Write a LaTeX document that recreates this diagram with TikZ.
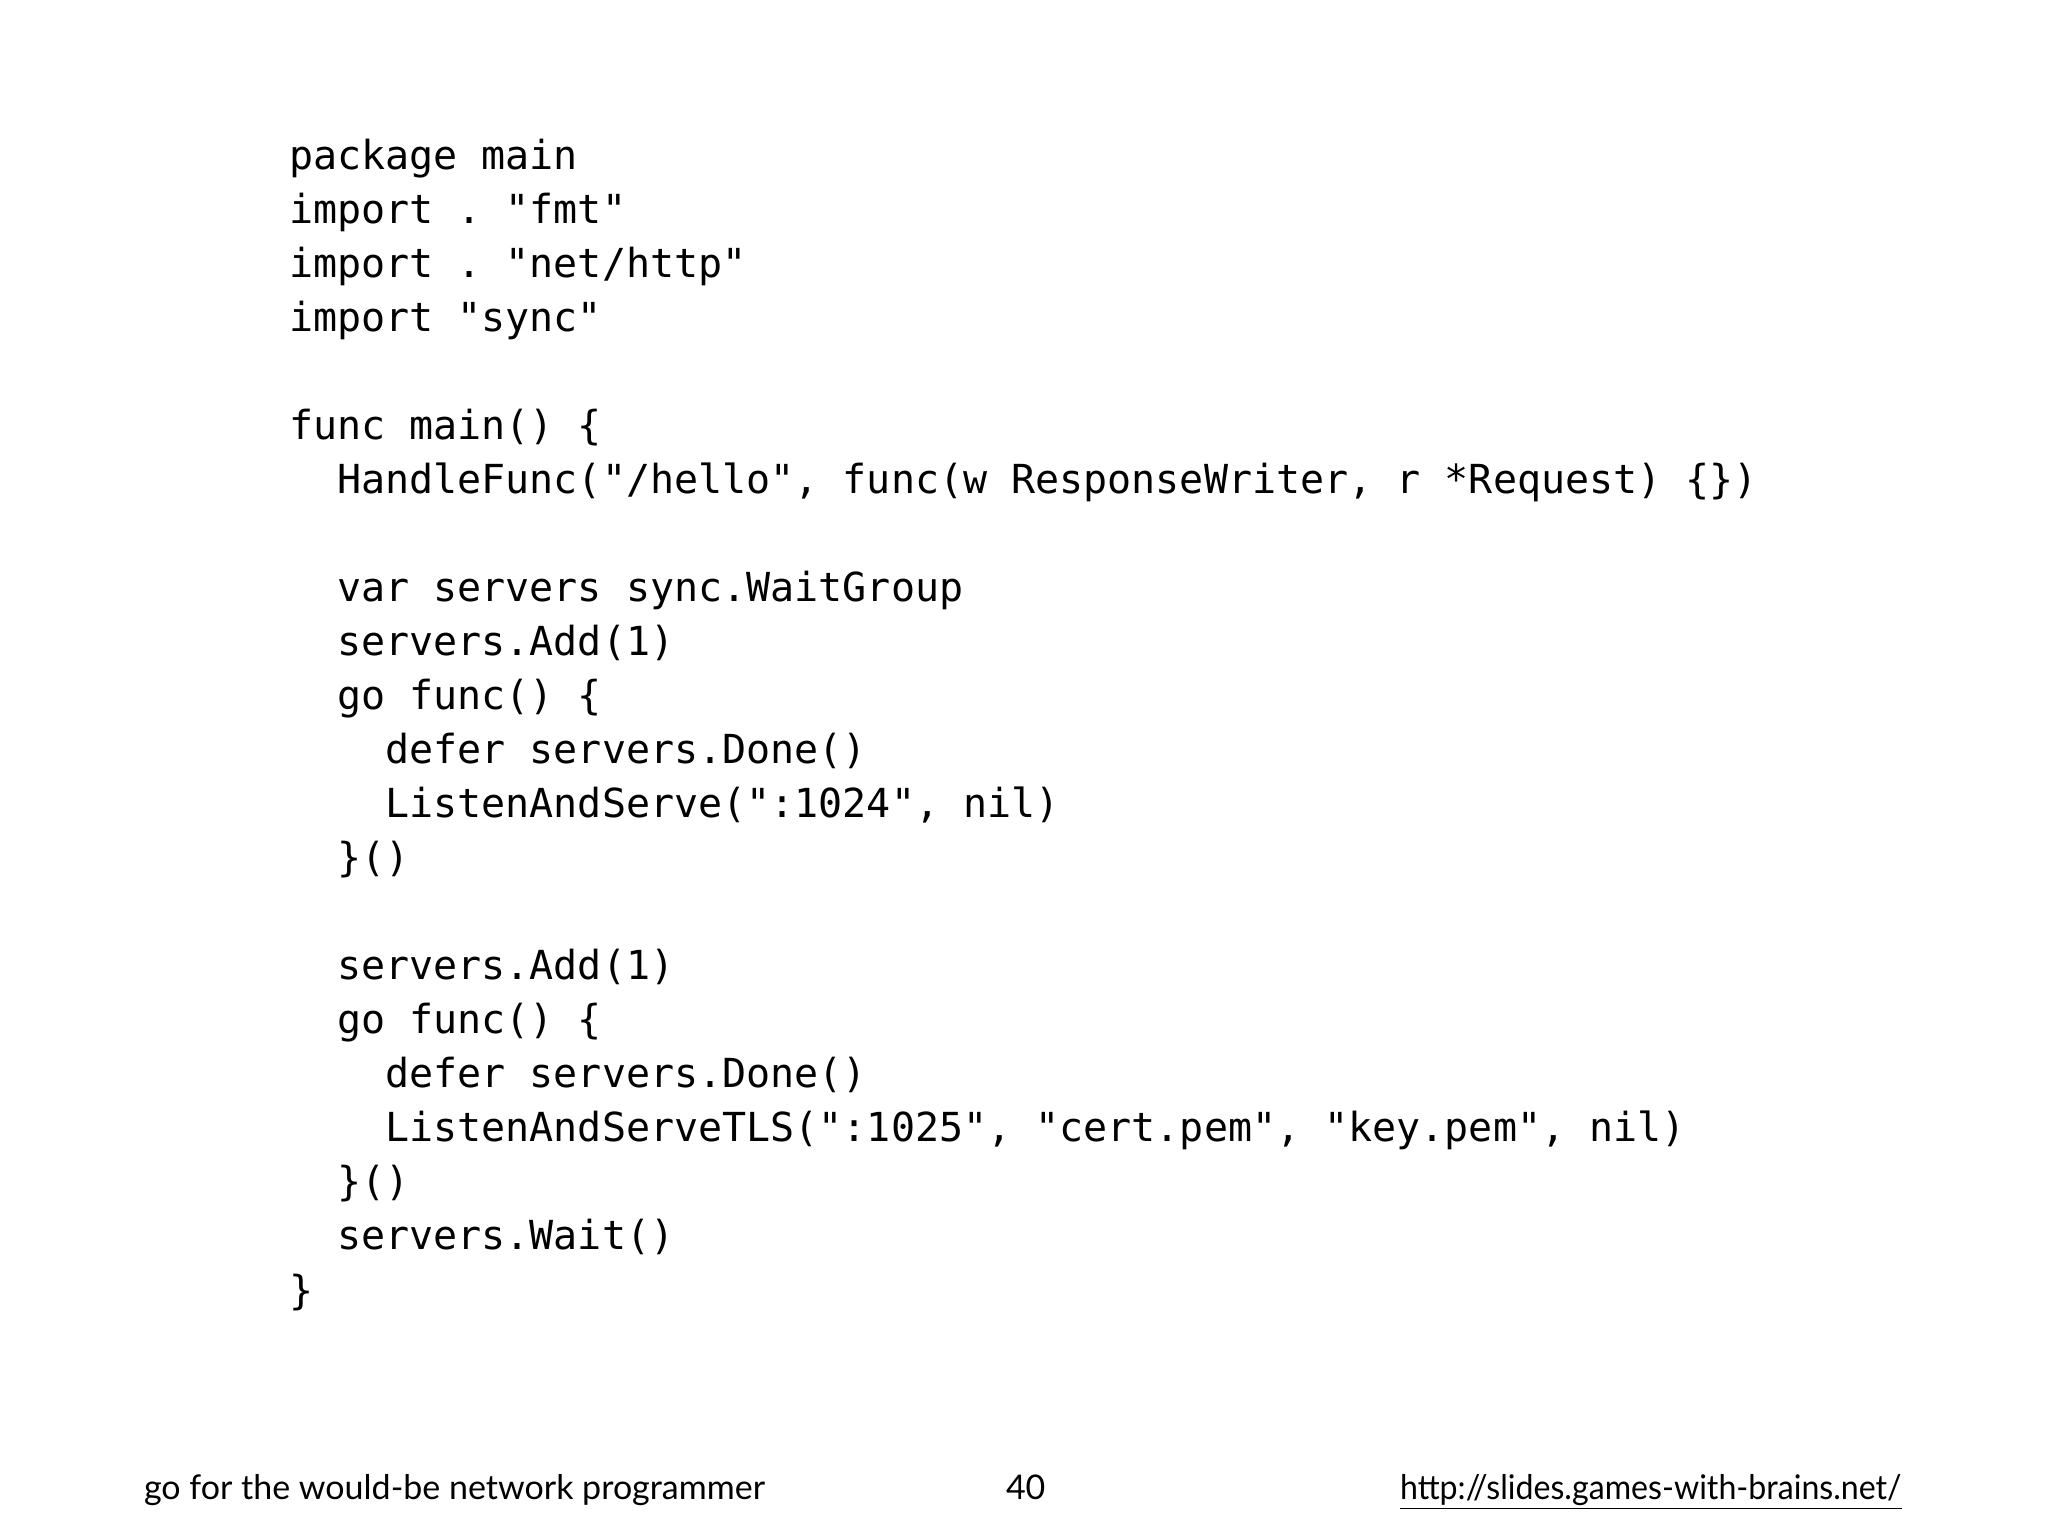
\documentclass[tikz,border=0pt]{standalone}
\usepackage{fontspec}
\setmonofont{DejaVu Sans Mono}
\newfontfamily\footfont{Lato}
\begin{document}
\begin{tikzpicture}[x=1pt,y=1pt,
  codeline/.style={anchor=base west, inner sep=0pt, outer sep=0pt, font=\ttfamily\fontsize{20pt}{27pt}\selectfont, text=black},
  footline/.style={anchor=base west, inner sep=0pt, outer sep=0pt, font=\footfont\fontsize{17pt}{20pt}\selectfont, text=black}]
\useasboundingbox (0,0) rectangle (1024,768);
\fill[white] (0,0) rectangle (1024,768);
\def\cx{144.5}
\def\cw{12.04}
\def\ly#1{683-27*#1}
\node[codeline] (l0) at (\cx, {\ly{0}}) {package main};
\node[codeline] (l1) at (\cx, {\ly{1}}) {import . "fmt"};
\node[codeline] (l2) at (\cx, {\ly{2}}) {import . "net/http"};
\node[codeline] (l3) at (\cx, {\ly{3}}) {import "sync"};
\node[codeline] (l5) at (\cx, {\ly{5}}) {func main() \{};
\node[codeline] (l6) at ({\cx+2*\cw}, {\ly{6}}) {HandleFunc("/hello", func(w ResponseWriter, r *Request) \{\})};
\node[codeline] (l8) at ({\cx+2*\cw}, {\ly{8}}) {var servers sync.WaitGroup};
\node[codeline] (l9) at ({\cx+2*\cw}, {\ly{9}}) {servers.Add(1)};
\node[codeline] (l10) at ({\cx+2*\cw}, {\ly{10}}) {go func() \{};
\node[codeline] (l11) at ({\cx+4*\cw}, {\ly{11}}) {defer servers.Done()};
\node[codeline] (l12) at ({\cx+4*\cw}, {\ly{12}}) {ListenAndServe(":1024", nil)};
\node[codeline] (l13) at ({\cx+2*\cw}, {\ly{13}}) {\}()};
\node[codeline] (l15) at ({\cx+2*\cw}, {\ly{15}}) {servers.Add(1)};
\node[codeline] (l16) at ({\cx+2*\cw}, {\ly{16}}) {go func() \{};
\node[codeline] (l17) at ({\cx+4*\cw}, {\ly{17}}) {defer servers.Done()};
\node[codeline] (l18) at ({\cx+4*\cw}, {\ly{18}}) {ListenAndServeTLS(":1025", "cert.pem", "key.pem", nil)};
\node[codeline] (l19) at ({\cx+2*\cw}, {\ly{19}}) {\}()};
\node[codeline] (l20) at ({\cx+2*\cw}, {\ly{20}}) {servers.Wait()};
\node[codeline] (l21) at (\cx, {\ly{21}}) {\}};
\node[footline] (fl) at (72, 18.5) {go for the would-be network programmer};
\node[footline] (fn) at (503, 18.5) {40};
\node[footline] (fr) at (700, 18.5) {\scalebox{0.945}[1]{\underline{http://slides.games-with-brains.net/}}};
\end{tikzpicture}
\end{document}
